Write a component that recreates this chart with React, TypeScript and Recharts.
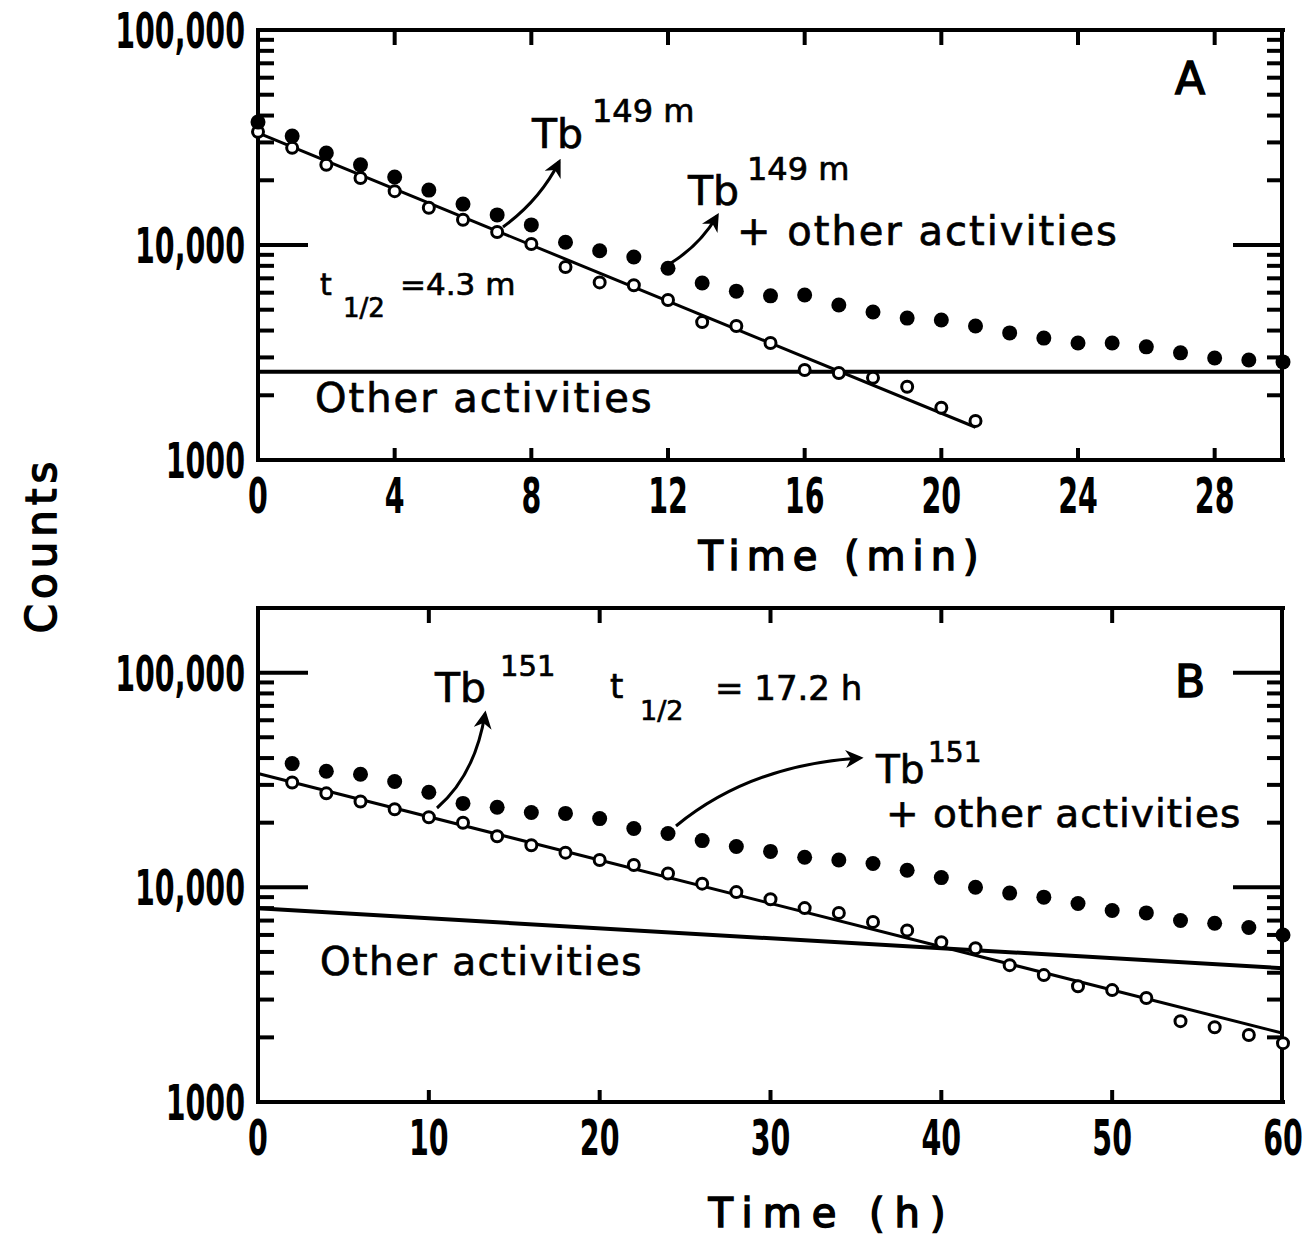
import { ComposedChart, Line, Scatter, XAxis, YAxis } from 'recharts'

// Panel A: Tb149m, time in minutes
const minA = [0, 1, 2, 3, 4, 5, 6, 7, 8, 9, 10, 11, 12, 13, 14, 15, 16, 17, 18, 19, 20, 21, 22, 23, 24, 25, 26, 27, 28, 29, 30]
const totalA = [37300, 32100, 26800, 23600, 20700, 18000, 15500, 13800, 12400, 10300, 9400, 8800, 7800, 6660, 6100, 5800, 5850, 5260, 4880, 4570, 4480, 4200, 3900, 3690, 3500, 3500, 3360, 3150, 2980, 2920, 2860]
const tb149 = [33600, 28300, 23600, 20500, 17800, 14900, 13100, 11500, 10100, 7900, 6700, 6500, 5550, 4380, 4200, 3500, 2620, 2540, 2410, 2190, 1750, 1520]
const fitTimeA = [0, 21]
const fitA = [33200, 1420]
const otherTimeA = [0, 30]
const otherA = [2570, 2570]

// Panel B: Tb151, time in hours
const hrB = [2, 4, 6, 8, 10, 12, 14, 16, 18, 20, 22, 24, 26, 28, 30, 32, 34, 36, 38, 40, 42, 44, 46, 48, 50, 52, 54, 56, 58, 60]
const totalB = [37700, 34700, 33600, 31100, 27700, 24600, 23600, 22300, 22100, 20900, 18800, 17800, 16500, 15500, 14700, 13800, 13400, 12900, 12000, 11100, 10000, 9400, 9000, 8400, 7800, 7600, 7000, 6800, 6500, 6000]
const tb151 = [30800, 27400, 25100, 23100, 21200, 20000, 17300, 15700, 14500, 13400, 12700, 11600, 10400, 9500, 8800, 8000, 7600, 6900, 6300, 5550, 5200, 4340, 3900, 3460, 3320, 3050, 2380, 2230, 2050, 1880]
const fitTimeB = [0, 60]
const fitB = [33900, 2090]
const otherTimeB = [0, 60]
const otherB = [7980, 4200]

const xTicksA = [0, 4, 8, 12, 16, 20, 24, 28]
const xTicksB = [0, 10, 20, 30, 40, 50, 60]
const yTicks = [1000, 10000, 100000]
const yMinor = [2000, 3000, 4000, 5000, 6000, 7000, 8000, 9000, 20000, 30000, 40000, 50000, 60000, 70000, 80000, 90000]

const pts = (ts: number[], vs: number[]) => ts.map((t, i) => ({ t, v: vs[i] }))

const FONT = '"DejaVu Sans", sans-serif'
const AXIS = { stroke: '#000', strokeWidth: 4, strokeLinecap: 'square' as const }
const TICK = { stroke: '#000', strokeWidth: 4 }

const fmt = (v: number) => (v >= 10000 ? v.toString().replace(/\B(?=(\d{3})+(?!\d))/g, ',') : String(v))

function YTick({ x, y, payload }: any) {
  return (
    <g transform={`translate(${x},${y})`}>
      <text transform="scale(0.57,1)" textAnchor="end" dy={18} fontFamily={FONT} fontWeight="bold" fontSize={50} fill="#000">
        {fmt(payload.value)}
      </text>
    </g>
  )
}

function XTick({ x, y, payload }: any) {
  return (
    <g transform={`translate(${x},${y})`}>
      <text transform="scale(0.57,1)" textAnchor="middle" dy={36} fontFamily={FONT} fontWeight="bold" fontSize={50} fill="#000">
        {payload.value}
      </text>
    </g>
  )
}

// tick marks only, no label
const NoLabel = () => <g />

const Filled = (p: any) => <circle cx={p.cx} cy={p.cy} r={7.5} fill="#000" />
const Open = (p: any) => <circle cx={p.cx} cy={p.cy} r={5.5} fill="#fff" stroke="#000" strokeWidth={3} />

function frame(xDomain: [number, number], xTicks: number[], yDomain: [number, number], yMajor: number[]) {
  const inner = xTicks.filter(t => t > xDomain[0] && t < xDomain[1])
  const minor = yMinor.filter(v => v > yDomain[0] && v < yDomain[1])
  const sides: ('left' | 'right')[] = ['left', 'right']
  const edges: ('top' | 'bottom')[] = ['top', 'bottom']
  return [
    <XAxis key="xb" xAxisId="b" dataKey="t" type="number" domain={xDomain} ticks={xTicks} interval={0} height={60}
      tickSize={0} tickMargin={17} tick={<XTick />} stroke="#000" axisLine={AXIS} tickLine={false} />,
    ...edges.map(edge => (
      <XAxis key={edge + 'x'} xAxisId={edge + 'x'} dataKey="t" orientation={edge} mirror type="number" domain={xDomain}
        allowDataOverflow ticks={inner} interval={0} height={1} tickSize={edge === 'top' ? 15 : 12} tick={<NoLabel />}
        stroke="#000" axisLine={edge === 'top' ? AXIS : false} tickLine={TICK} />
    )),
    <YAxis key="yl" yAxisId="l" dataKey="v" type="number" scale="log" domain={yDomain} ticks={yTicks} interval={0} width={258}
      tickSize={0} tickMargin={13} tick={<YTick />} stroke="#000" axisLine={AXIS} tickLine={false} />,
    ...sides.flatMap(side => [
      <YAxis key={side + 'm'} yAxisId={side + 'm'} orientation={side} mirror type="number" scale="log" domain={yDomain}
        allowDataOverflow ticks={minor} interval={0} width={1} tickSize={15} tick={<NoLabel />} stroke="#000"
        axisLine={side === 'right' ? AXIS : false} tickLine={TICK} />,
      <YAxis key={side + 'M'} yAxisId={side + 'M'} orientation={side} mirror type="number" scale="log" domain={yDomain}
        allowDataOverflow ticks={yMajor} interval={0} width={1} tickSize={50} tick={<NoLabel />} stroke="#000"
        axisLine={false} tickLine={TICK} />,
    ]),
  ]
}

function series(total: any[], tb: any[], fit: any[], other: any[]) {
  return [
    <Line key="other" xAxisId="b" yAxisId="l" data={other} dataKey="v" type="linear" stroke="#000" strokeWidth={4}
      dot={false} activeDot={false} isAnimationActive={false} />,
    <Line key="fit" xAxisId="b" yAxisId="l" data={fit} dataKey="v" type="linear" stroke="#000" strokeWidth={3}
      dot={false} activeDot={false} isAnimationActive={false} />,
    <Scatter key="tb" xAxisId="b" yAxisId="l" data={tb} dataKey="v" shape={Open} isAnimationActive={false} />,
    <Scatter key="total" xAxisId="b" yAxisId="l" data={total} dataKey="v" shape={Filled} isAnimationActive={false} />,
  ]
}

const txt = { fontFamily: FONT, fill: '#000', stroke: '#000', strokeWidth: 0.7 }

export default function App() {
  const totA = pts(minA, totalA)
  const totB = pts(hrB, totalB)
  return (
    <div style={{ position: 'absolute', left: 0, top: 0, width: 1302, height: 1237, background: '#fff' }}>
      <div style={{ position: 'absolute', left: 0, top: 0 }}>
        <ComposedChart width={1302} height={600} data={totA} margin={{ top: 30, right: 19, left: 0, bottom: 80 }}>
          {frame([0, 30], xTicksA, [1000, 100000], [10000])}
          {series(totA, pts(minA.slice(0, tb149.length), tb149), pts(fitTimeA, fitA), pts(otherTimeA, otherA))}
        </ComposedChart>
      </div>
      <div style={{ position: 'absolute', left: 0, top: 590 }}>
        <ComposedChart width={1302} height={647} data={totB} margin={{ top: 18, right: 19, left: 0, bottom: 75 }}>
          {frame([0, 60], xTicksB, [1000, 200000], [10000, 100000])}
          {series(totB, pts(hrB, tb151), pts(fitTimeB, fitB), pts(otherTimeB, otherB))}
        </ComposedChart>
      </div>
      <svg width={1302} height={1237} style={{ position: 'absolute', left: 0, top: 0, pointerEvents: 'none' }}>
        <defs>
          <marker id="arr" viewBox="0 0 10 10" refX="8" refY="5" markerWidth="6" markerHeight="6" orient="auto">
            <path d="M0,0 L10,5 L0,10 L3,5 z" fill="#000" />
          </marker>
        </defs>

        {/* axis titles */}
        <text {...txt} x={842} y={570} fontSize={40} letterSpacing={7} textAnchor="middle" strokeWidth={1.5}>Time (min)</text>
        <text {...txt} x={832} y={1227} fontSize={40} letterSpacing={10} textAnchor="middle" strokeWidth={1.5}>Time (h)</text>
        <text {...txt} transform="translate(56,545) rotate(-90)" fontSize={42} letterSpacing={5} textAnchor="middle" strokeWidth={1.5}>Counts</text>

        {/* panel A */}
        <text {...txt} x={1190} y={94} fontSize={44} textAnchor="middle" strokeWidth={1.5}>A</text>
        <text {...txt} x={532} y={148} fontSize={41}>Tb</text>
        <text {...txt} x={592} y={122} fontSize={32}>149 m</text>
        <text {...txt} x={688} y={205} fontSize={41}>Tb</text>
        <text {...txt} x={747} y={180} fontSize={32}>149 m</text>
        <text {...txt} x={737} y={245} fontSize={40} letterSpacing={2}>+ other activities</text>
        <text {...txt} x={320} y={295} fontSize={30}>t</text>
        <text {...txt} x={343} y={317} fontSize={26}>1/2</text>
        <text {...txt} x={400} y={295} fontSize={31}>=4.3 m</text>
        <text {...txt} x={315} y={412} fontSize={40} letterSpacing={2}>Other activities</text>
        <path d="M503,227 Q540,200 559,162" fill="none" stroke="#000" strokeWidth={3} markerEnd="url(#arr)" />
        <path d="M671,263 Q700,245 717,216" fill="none" stroke="#000" strokeWidth={3} markerEnd="url(#arr)" />

        {/* panel B */}
        <text {...txt} x={1190} y={697} fontSize={44} textAnchor="middle" strokeWidth={1.5}>B</text>
        <text {...txt} x={435} y={702} fontSize={41}>Tb</text>
        <text {...txt} x={500} y={676} fontSize={29}>151</text>
        <text {...txt} x={610} y={698} fontSize={34}>t</text>
        <text {...txt} x={640} y={720} fontSize={27}>1/2</text>
        <text {...txt} x={715} y={700} fontSize={34}>= 17.2 h</text>
        <text {...txt} x={876} y={783} fontSize={39}>Tb</text>
        <text {...txt} x={928} y={762} fontSize={28}>151</text>
        <text {...txt} x={886} y={827} fontSize={39} letterSpacing={1}>+ other activities</text>
        <text {...txt} x={320} y={975} fontSize={39} letterSpacing={1.5}>Other activities</text>
        <path d="M437,808 Q475,775 485,714" fill="none" stroke="#000" strokeWidth={3} markerEnd="url(#arr)" />
        <path d="M676,826 Q750,765 860,758" fill="none" stroke="#000" strokeWidth={3} markerEnd="url(#arr)" />
      </svg>
    </div>
  )
}
